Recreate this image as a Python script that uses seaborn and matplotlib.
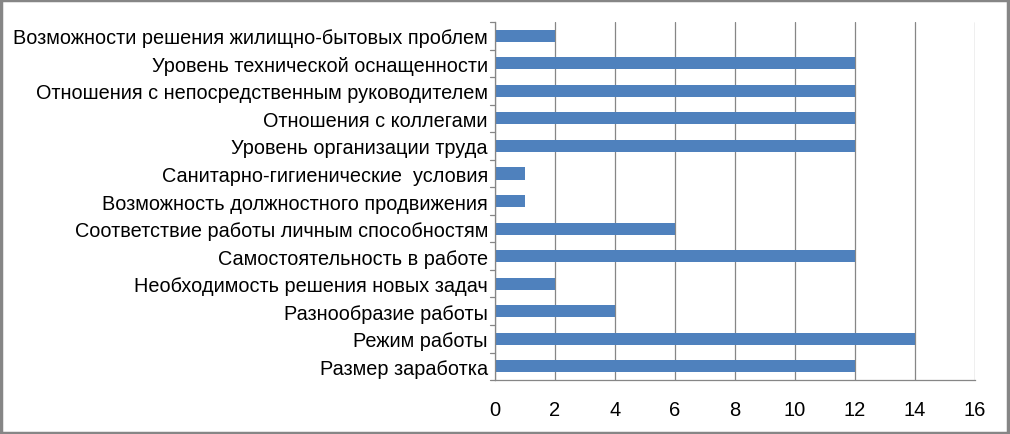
import matplotlib
matplotlib.use("Agg")
import matplotlib.pyplot as plt
import seaborn as sns
import pandas as pd
from matplotlib.patches import Rectangle

# categories listed top to bottom as in the chart
factors = [
    "Возможности решения жилищно-бытовых проблем",
    "Уровень технической оснащенности",
    "Отношения с непосредственным руководителем",
    "Отношения с коллегами",
    "Уровень организации труда",
    "Санитарно-гигиенические  условия",
    "Возможность должностного продвижения",
    "Соответствие работы личным способностям",
    "Самостоятельность в работе",
    "Необходимость решения новых задач",
    "Разнообразие работы",
    "Режим работы",
    "Размер заработка",
]
counts = [2, 12, 12, 12, 12, 1, 1, 6, 12, 2, 4, 14, 12]
x_ticks = [0, 2, 4, 6, 8, 10, 12, 14, 16]

df = pd.DataFrame({"factor": factors, "count": counts})

sns.set_style("white")
plt.rcParams["font.family"] = ["Liberation Sans", "DejaVu Sans"]

fig = plt.figure(figsize=(10.1, 4.35), dpi=100)
ax = fig.add_axes([0.490, 0.124, 0.475, 0.823])

sns.barplot(data=df, y="factor", x="count", order=factors, color="#4F81BD",
            width=0.44, saturation=1, linewidth=0, ax=ax)

ax.set_xlim(0, 16)
ax.set_xticks(x_ticks)
ax.set_xticklabels([str(t) for t in x_ticks], fontsize=14.5)
ax.set_ylim(len(factors) - 0.5, -0.5)
ax.tick_params(axis="y", labelsize=14.3, length=0, pad=5, labelcolor="#000000")
ax.tick_params(axis="x", length=5, color="#868686", pad=9, direction="out",
               labelcolor="#000000")
ax.set_xlabel("")
ax.set_ylabel("")

ax.grid(axis="x", color="#868686", linewidth=0.9)
ax.set_axisbelow(True)
for side in ["top", "right"]:
    ax.spines[side].set_visible(False)
for side in ["left", "bottom"]:
    ax.spines[side].set_color("#868686")
    ax.spines[side].set_linewidth(0.9)

# small separators on the category axis, like Excel's tick marks
for i in range(len(factors) + 1):
    ax.plot([-0.15, 0], [i - 0.5, i - 0.5], color="#868686", linewidth=0.9,
            clip_on=False, transform=ax.transData)

fig.patches.append(Rectangle((0.001, 0.002), 0.997, 0.995, transform=fig.transFigure,
                             fill=False, edgecolor="#868686", linewidth=2.5))

fig.savefig("out.png", dpi=100)
